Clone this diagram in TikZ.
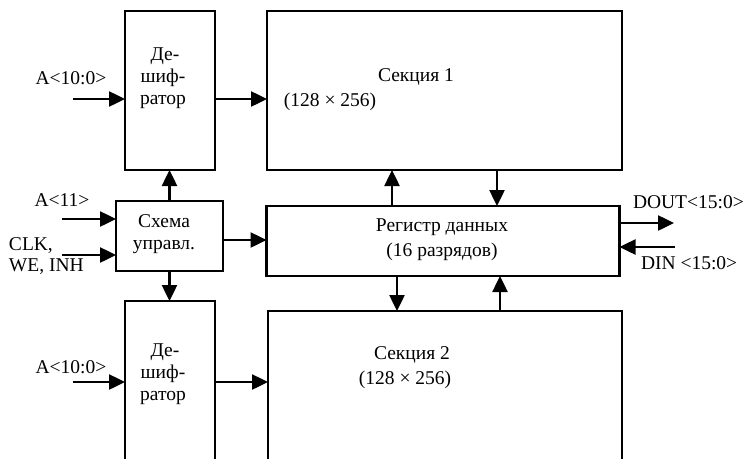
\documentclass[tikz,border=0pt]{standalone}
\usepackage{fontspec}
\setmainfont{Liberation Serif}
\usetikzlibrary{arrows.meta}
\tikzset{
  blk/.style={draw, line width=2.5pt, inner sep=0pt, outer sep=0pt},
  txt/.style={inner sep=0pt, outer sep=0pt, font=\fontsize{19.5}{22}\selectfont, align=center},
  txtl/.style={inner sep=0pt, outer sep=0pt, font=\fontsize{19.5}{21}\selectfont, align=left},
  arr/.style={line width=2.5pt, -{Triangle[length=16pt,width=15pt]}}
}
\begin{document}
\begin{tikzpicture}[x=1pt,y=-1pt]
\clip (0,0) rectangle (747,458);
\fill[white] (0,0) rectangle (747,458);
% boxes
\node[blk, minimum width=90pt, minimum height=159pt] (dec1) at (170,90.5) {};
\node[blk, minimum width=355pt, minimum height=159pt] (sec1) at (444.5,90.5) {};
\node[blk, minimum width=107pt, minimum height=70pt] (ctrl) at (169.5,236) {};
\node[blk, minimum width=353pt, minimum height=70pt] (reg) at (443,241) {};
\node[blk, minimum width=90pt, minimum height=179pt] (dec2) at (170,390.5) {};
\node[blk, minimum width=354pt, minimum height=169pt] (sec2) at (445,395.5) {};
% box texts
\node[txt] (dec1t) at (163,78) {\hspace*{4pt}Де-\\шиф-\\ратор};
\node[txt] (dec2t) at (163,374) {\hspace*{4pt}Де-\\шиф-\\ратор};
\node[txt] (ctrlt) at (164,234) {Схема\\управл.};
\node[txt, font=\fontsize{19.5}{25}\selectfont] (regt) at (442,240) {Регистр данных\\(16 разрядов)};
\node[txt] (s1a) at (416,77) {Секция 1};
\node[txt] (s1b) at (330,102) {(128 × 256)};
\node[txt] (s2a) at (412,355) {Секция 2};
\node[txt] (s2b) at (405,380) {(128 × 256)};
% outside labels
\node[txt] (la1) at (71,78) {A<10:0>};
\node[txt] (la2) at (71,367) {A<10:0>};
\node[txt] (la11) at (62,200) {A<11>};
\node[txtl, anchor=west] (lclk) at (9,256) {CLK,\\WE, INH};
\node[txt, anchor=west] (ldout) at (633,202) {DOUT<15:0>};
\node[txt, anchor=west] (ldin) at (641,263) {DIN <15:0>};
% coordinates
\coordinate (in1) at (73,99);
\coordinate (in2) at (73,382);
\coordinate (ina11) at (62,219);
\coordinate (inclk) at (62,255);
\coordinate (dout) at (674,223);
\coordinate (din) at (675,247);
\coordinate (cx1) at (392,0);
\coordinate (cx2) at (497,0);
\coordinate (cx3) at (397,0);
\coordinate (cx4) at (500,0);
\coordinate (cy) at (0,240);
% connectors
\draw[arr] (in1) -- (dec1.west |- in1);
\draw[arr] (dec1.east |- in1) -- (sec1.west |- in1);
\draw[arr] (in2) -- (dec2.west |- in2);
\draw[arr] (dec2.east |- in2) -- (sec2.west |- in2);
\draw[arr] (ina11) -- (ctrl.west |- ina11);
\draw[arr] (inclk) -- (ctrl.west |- inclk);
\draw[arr] (ctrl.north) -- (ctrl.north |- dec1.south);
\draw[arr] (ctrl.south) -- (ctrl.south |- dec2.north);
\draw[arr] (ctrl.east |- cy) -- (reg.west |- cy);
\draw[arr] (reg.north -| cx1) -- (sec1.south -| cx1);
\draw[arr] (sec1.south -| cx2) -- (reg.north -| cx2);
\draw[arr] (reg.south -| cx3) -- (sec2.north -| cx3);
\draw[arr] (sec2.north -| cx4) -- (reg.south -| cx4);
\draw[arr] (reg.east |- dout) -- (dout);
\draw[arr] (din) -- (reg.east |- din);
\end{tikzpicture}
\end{document}
